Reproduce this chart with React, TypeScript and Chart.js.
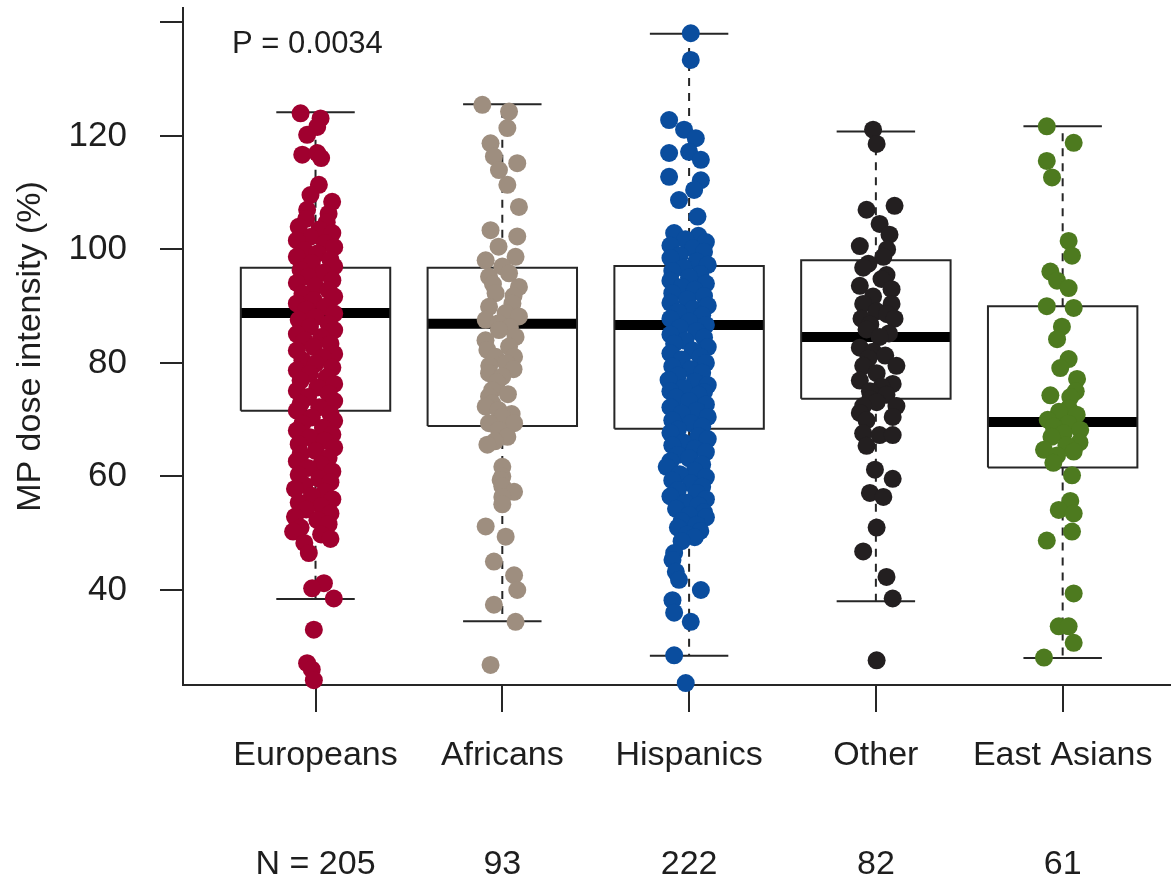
import React, { useEffect, useRef } from 'react';
import { Chart, registerables } from 'chart.js';

Chart.register(...registerables);

const groups = ['Europeans', 'Africans', 'Hispanics', 'Other', 'East Asians'];
const groupN = [205, 93, 222, 82, 61];
const colors = ['#A0002F', '#9E8E7F', '#0A4D9E', '#231F20', '#4D7A1F'];
const yTickValues = [40, 60, 80, 100, 120, 140];
const yTickLabels = ['40', '60', '80', '100', '120', ''];
const boxQ1 = [71.6, 68.9, 68.4, 73.7, 61.6];
const boxMedian = [88.8, 86.9, 86.7, 84.6, 69.6];
const boxQ3 = [96.8, 96.8, 97.1, 98.1, 90.0];
const whiskerLow = [38.4, 34.5, 28.4, 38.0, 28.0];
const whiskerHigh = [124.2, 125.6, 138.0, 120.8, 121.7];
const pValueText = 'P = 0.0034';
const pValuePos = [0.553, 136.2];

// jittered points: [horizontal jitter offset from group centre, MP dose intensity]
const europeansPts = [
  [-0.08, 124.0], [0.027, 123.1], [0.009, 121.6], [-0.045, 120.2], [-0.071, 116.7], [0.009, 117.0], [0.03, 116.1],
  [0.018, 111.4], [-0.027, 109.6], [0.089, 108.4], [-0.045, 107.0], [0.07, 106.3],
  [-0.05, 105.4], [0.06, 104.8], [-0.09, 104.0], [0.02, 103.5], [0.09, 102.9], [-0.03, 102.2], [-0.1, 101.6], [0.05, 101.1],
  [0.1, 100.4], [-0.06, 99.9], [0.01, 99.3], [-0.1, 98.7], [0.08, 98.2], [-0.02, 97.6], [0.1, 97.0], [-0.08, 96.4],
  [0.04, 95.9], [-0.04, 95.2], [0.09, 94.6], [-0.1, 94.1], [0.0, 93.5], [0.07, 92.8], [-0.07, 92.2], [0.1, 91.7],
  [-0.01, 91.1], [-0.1, 90.5], [0.05, 89.9], [-0.05, 89.4], [0.1, 88.7], [0.0, 88.1], [-0.09, 87.6], [0.07, 86.9],
  [-0.03, 86.4], [0.1, 85.8], [-0.1, 85.1], [0.03, 84.6], [-0.06, 84.0], [0.08, 83.4], [-0.01, 82.8], [-0.1, 82.2],
  [0.1, 81.6], [0.04, 81.0], [-0.07, 80.5], [0.0, 79.9], [0.09, 79.2], [-0.1, 78.7], [-0.03, 78.1], [0.06, 77.5],
  [-0.08, 76.9], [0.1, 76.3], [0.01, 75.7], [-0.1, 75.1], [0.07, 74.6], [-0.04, 74.0], [0.1, 73.3], [-0.08, 72.8],
  [0.02, 72.2], [-0.1, 71.6], [0.08, 71.0], [-0.02, 70.4], [0.1, 69.8], [-0.07, 69.3], [0.04, 68.6], [-0.1, 68.1],
  [0.09, 67.4], [-0.03, 66.9], [0.05, 66.3], [-0.09, 65.7], [0.1, 65.1], [0.0, 64.5], [-0.08, 63.9], [0.07, 63.3],
  [-0.1, 62.7], [0.03, 62.1], [-0.04, 61.5], [0.09, 60.9], [-0.09, 60.3], [0.02, 59.6], [0.08, 59.0], [-0.06, 58.5],
  [-0.11, 57.8], [0.05, 57.3], [-0.02, 56.6], [0.09, 56.0], [-0.09, 55.4], [0.03, 54.8], [-0.05, 54.2], [0.08, 53.5],
  [-0.11, 52.9], [0.01, 52.3], [0.07, 51.6], [-0.08, 51.0], [-0.12, 50.3], [0.03, 49.8], [0.08, 49.0], [-0.06, 48.3],
  [-0.036, 46.5], [0.045, 41.2], [-0.018, 40.3], [0.098, 38.5], [-0.009, 33.0], [-0.045, 27.1], [-0.02, 26.0], [-0.009, 24.1],
];

const africansPts = [
  [-0.107, 125.5], [0.036, 124.3], [0.027, 121.4], [-0.063, 118.7], [-0.045, 116.4], [0.08, 115.2], [-0.018, 114.0],
  [0.027, 111.4], [0.089, 107.5], [-0.063, 103.4], [0.08, 102.3], [-0.02, 100.5], [0.071, 98.7], [-0.089, 98.1],
  [0.0, 97.0], [0.036, 95.8], [-0.071, 95.2], [-0.05, 93.9], [0.089, 93.4], [-0.036, 92.3], [0.06, 91.8], [0.054, 90.5],
  [-0.071, 89.9], [0.018, 88.8], [0.089, 88.2], [-0.089, 87.6], [-0.02, 87.0], [0.04, 86.3], [-0.018, 85.8], [0.071, 84.6],
  [-0.09, 84.0], [0.036, 82.9], [-0.08, 82.3], [-0.036, 81.1], [0.063, 81.1], [0.02, 80.0], [-0.07, 79.5], [0.06, 78.9],
  [-0.071, 78.2], [0.0, 77.6], [-0.03, 76.6], [-0.054, 75.2], [0.03, 74.5], [-0.071, 74.1], [-0.054, 72.9], [-0.089, 72.3],
  [-0.02, 71.7], [0.05, 71.0], [0.0, 70.5], [0.063, 69.4], [-0.071, 69.4], [-0.018, 68.2], [0.027, 67.0], [-0.04, 66.2],
  [-0.08, 65.6], [0.0, 61.7], [0.0, 60.0], [-0.009, 59.4], [0.0, 58.3], [0.063, 57.3], [0.0, 56.4], [0.0, 55.1],
  [-0.089, 51.2], [0.018, 49.4], [-0.045, 45.0], [0.063, 42.6], [0.08, 40.0], [-0.045, 37.4], [0.071, 34.4], [-0.063, 26.8],
];

const hispanicsPts = [
  [0.009, 138.1], [0.009, 133.4], [-0.107, 122.8], [-0.027, 121.1], [0.036, 119.6], [-0.107, 117.0], [0.0, 117.2],
  [0.063, 115.8], [-0.107, 112.8], [0.063, 112.2], [0.027, 110.5], [-0.054, 108.7], [0.045, 105.8],
  [-0.08, 102.9], [0.05, 102.4], [-0.02, 101.8], [0.09, 101.3], [-0.1, 100.7], [0.02, 100.2], [0.08, 99.6], [-0.05, 99.0],
  [-0.1, 98.5], [0.04, 97.9], [0.1, 97.3], [-0.03, 96.8], [-0.09, 96.2], [0.06, 95.7], [0.0, 95.1], [-0.1, 94.5],
  [0.09, 94.0], [-0.04, 93.4], [0.03, 92.9], [-0.09, 92.3], [0.08, 91.8], [-0.01, 91.2], [-0.1, 90.6], [0.1, 90.1],
  [0.02, 89.5], [-0.06, 89.0], [0.07, 88.4], [-0.1, 87.8], [0.0, 87.3], [0.09, 86.7], [-0.05, 86.2], [0.04, 85.6],
  [-0.1, 85.0], [0.08, 84.5], [-0.02, 83.9], [-0.08, 83.4], [0.1, 82.8], [0.02, 82.2], [-0.1, 81.7], [0.06, 81.1],
  [-0.04, 80.6], [0.09, 80.0], [-0.09, 79.4], [0.01, 78.9], [0.07, 78.3], [-0.06, 77.8], [-0.11, 77.0], [0.03, 76.7],
  [0.1, 76.1], [-0.03, 75.6], [-0.1, 75.0], [0.08, 74.9], [0.05, 74.4], [-0.07, 73.9], [0.0, 73.3], [0.09, 72.7],
  [-0.1, 72.2], [0.04, 71.6], [-0.04, 71.1], [0.1, 70.5], [-0.09, 69.9], [0.01, 69.4], [0.07, 68.8], [-0.06, 68.3],
  [-0.1, 67.7], [0.05, 67.1], [0.1, 66.6], [-0.03, 66.0], [-0.09, 65.5], [0.03, 64.9], [0.09, 64.3], [-0.06, 63.8],
  [0.0, 63.2], [-0.1, 62.7], [0.07, 62.1], [-0.12, 61.7], [0.03, 61.0], [-0.05, 60.4], [0.09, 59.9], [-0.09, 59.3],
  [0.01, 58.8], [0.07, 58.2], [-0.06, 57.6], [0.04, 57.1], [-0.1, 56.5], [0.09, 56.0], [-0.02, 55.4], [0.05, 54.9],
  [-0.07, 54.3], [0.08, 53.7], [0.0, 53.2], [0.09, 52.8], [-0.04, 52.1], [0.04, 51.5], [-0.06, 51.0], [0.06, 50.4],
  [-0.01, 49.8], [0.03, 49.3], [-0.04, 48.6],
  [-0.08, 46.5], [-0.089, 45.3], [-0.071, 43.2], [-0.054, 41.8], [0.063, 40.0], [-0.089, 38.2], [-0.08, 36.0],
  [0.009, 34.4], [-0.08, 28.5], [-0.018, 23.6],
];

const otherPts = [
  [-0.015, 121.1], [0.004, 118.6], [-0.05, 107.0], [0.1, 107.7], [0.02, 104.5], [0.073, 102.6], [-0.086, 100.6],
  [0.06, 100.0], [0.04, 98.7], [-0.04, 97.5], [-0.068, 96.8], [0.057, 95.5], [0.03, 94.8], [-0.086, 93.6], [0.084, 93.0],
  [-0.015, 91.7], [-0.068, 90.4], [0.084, 90.4], [0.004, 89.1], [0.06, 88.6], [0.1, 87.8], [-0.077, 87.8], [-0.03, 86.8],
  [-0.05, 85.9], [0.07, 85.2], [0.02, 84.6], [-0.086, 82.7], [-0.015, 82.0], [0.05, 81.3], [-0.04, 80.8], [-0.068, 79.5],
  [0.11, 79.5], [0.004, 78.2], [-0.086, 76.9], [0.09, 76.3], [0.03, 75.8], [-0.032, 75.0], [0.057, 74.4], [-0.03, 73.6],
  [0.004, 73.1], [-0.068, 72.4], [0.11, 72.4], [-0.086, 71.2], [0.09, 70.5], [-0.05, 69.9], [-0.068, 67.6], [0.02, 67.3],
  [0.09, 67.3], [-0.05, 65.4], [-0.005, 61.2], [0.09, 59.6], [-0.032, 57.1], [0.04, 56.4], [0.004, 51.0], [-0.068, 46.8],
  [0.057, 42.3], [0.09, 38.5], [0.004, 27.6],
];

const eastAsiansPts = [
  [-0.085, 121.7], [0.059, 118.8], [-0.085, 115.6], [-0.057, 112.7], [0.032, 101.5], [0.05, 98.9], [-0.066, 96.1],
  [-0.03, 94.5], [0.032, 93.2], [-0.085, 90.0], [0.059, 89.7], [-0.004, 86.4], [-0.03, 84.2], [0.032, 80.7],
  [-0.013, 79.1], [0.077, 77.2], [0.07, 75.0], [-0.066, 74.3], [0.041, 74.0], [0.032, 72.0], [-0.02, 71.4],
  [0.075, 70.9], [-0.08, 70.0], [0.03, 69.3], [-0.048, 68.8], [0.094, 68.2], [0.005, 67.6], [-0.06, 67.0],
  [0.09, 66.0], [0.02, 65.5], [-0.1, 64.7], [0.059, 64.4], [-0.03, 63.7], [-0.05, 62.4], [0.05, 60.2], [0.041, 55.7],
  [-0.021, 54.1], [0.059, 53.5], [0.05, 50.3], [-0.085, 48.7], [0.059, 39.4], [-0.021, 33.6], [0.032, 33.6],
  [0.059, 30.7], [-0.1, 28.1],
];

const pointSets = [europeansPts, africansPts, hispanicsPts, otherPts, eastAsiansPts];

const BOX_HALF = 0.4;
const CAP_HALF = 0.21;
const FONT = '"Liberation Sans", Arial, Helvetica, sans-serif';
const INK = '#1e1e1e';
const LINE = '#262626';

const pTextPlugin = {
  id: 'pText',
  afterDatasetsDraw(chart: any) {
    const { ctx, scales } = chart;
    ctx.save();
    ctx.font = `31px ${FONT}`;
    ctx.fillStyle = INK;
    ctx.textAlign = 'left';
    ctx.textBaseline = 'middle';
    ctx.fillText(pValueText, scales.x.getPixelForValue(pValuePos[0]), scales.y.getPixelForValue(pValuePos[1]));
    ctx.restore();
  },
};

export default function App() {
  const ref = useRef<HTMLCanvasElement | null>(null);

  useEffect(() => {
    if (!ref.current) return;
    const datasets: any[] = [];
    pointSets.forEach((pts, gi) => {
      datasets.push({
        type: 'scatter',
        label: groups[gi],
        data: pts.map(([dx, v]) => ({ x: gi + 1 + dx, y: v })),
        pointRadius: 9,
        pointHoverRadius: 9,
        pointBackgroundColor: colors[gi],
        pointBorderWidth: 0,
        borderWidth: 0,
        showLine: false,
        clip: false,
        order: 0,
      });
    });

    const boxData: any[] = [];
    const whiskerData: any[] = [];
    const capData: any[] = [];
    const medianData: any[] = [];
    groups.forEach((_, i) => {
      const c = i + 1;
      boxData.push(
        { x: c - BOX_HALF, y: boxQ1[i] }, { x: c + BOX_HALF, y: boxQ1[i] },
        { x: c + BOX_HALF, y: boxQ3[i] }, { x: c - BOX_HALF, y: boxQ3[i] },
        { x: c - BOX_HALF, y: boxQ1[i] }, { x: c, y: null },
      );
      whiskerData.push(
        { x: c, y: boxQ3[i] }, { x: c, y: whiskerHigh[i] }, { x: c, y: null },
        { x: c, y: boxQ1[i] }, { x: c, y: whiskerLow[i] }, { x: c, y: null },
      );
      capData.push(
        { x: c - CAP_HALF, y: whiskerHigh[i] }, { x: c + CAP_HALF, y: whiskerHigh[i] }, { x: c, y: null },
        { x: c - CAP_HALF, y: whiskerLow[i] }, { x: c + CAP_HALF, y: whiskerLow[i] }, { x: c, y: null },
      );
      medianData.push(
        { x: c - BOX_HALF, y: boxMedian[i] }, { x: c + BOX_HALF, y: boxMedian[i] }, { x: c, y: null },
      );
    });
    const lineBase = {
      type: 'scatter',
      showLine: true,
      pointRadius: 0,
      pointHoverRadius: 0,
      borderColor: LINE,
      fill: false,
      tension: 0,
      spanGaps: false,
      order: 1,
    };
    datasets.push({ ...lineBase, label: 'whisker', data: whiskerData, borderWidth: 2, borderDash: [8, 7] });
    datasets.push({ ...lineBase, label: 'cap', data: capData, borderWidth: 2 });
    datasets.push({ ...lineBase, label: 'box', data: boxData, borderWidth: 2, borderJoinStyle: 'miter' });
    datasets.push({ ...lineBase, label: 'median', data: medianData, borderWidth: 10, borderColor: '#000', borderCapStyle: 'butt' });

    const chart = new Chart(ref.current, {
      type: 'scatter',
      data: { datasets },
      plugins: [pTextPlugin],
      options: {
        responsive: false,
        maintainAspectRatio: false,
        animation: false,
        events: [],
        layout: { autoPadding: false, padding: { top: 8, right: 0, left: 0, bottom: 0 } },
        plugins: { legend: { display: false }, tooltip: { enabled: false }, title: { display: false } },
        scales: {
          x: {
            type: 'linear',
            min: 0.2905,
            max: 5.58,
            afterBuildTicks: (s: any) => { s.ticks = groups.map((_, i) => ({ value: i + 1 })); },
            afterFit: (s: any) => { s.height = 194; s.paddingLeft = 0; s.paddingRight = 0; },
            grid: { display: true, drawOnChartArea: false, drawTicks: true, tickLength: 27, color: LINE, tickColor: LINE, tickWidth: 2, lineWidth: 2 },
            border: { display: true, color: LINE, width: 2 },
            ticks: {
              autoSkip: false,
              maxRotation: 0,
              minRotation: 0,
              padding: -10.5,
              color: INK,
              font: { family: FONT, size: 34, lineHeight: '109px' },
              callback: (v: any) => {
                const i = Math.round(Number(v)) - 1;
                return [groups[i], i === 0 ? `N = ${groupN[i]}` : String(groupN[i])];
              },
            },
          },
          y: {
            type: 'linear',
            min: 23.26,
            max: 142.55,
            afterBuildTicks: (s: any) => { s.ticks = yTickValues.map((v) => ({ value: v })); },
            afterFit: (s: any) => { s.width = 183; s.paddingTop = 0; s.paddingBottom = 0; },
            grid: { display: true, drawOnChartArea: false, drawTicks: true, tickLength: 23, color: LINE, tickColor: LINE, tickWidth: 2, lineWidth: 2 },
            border: { display: true, color: LINE, width: 2 },
            ticks: {
              padding: 33,
              color: INK,
              font: { family: FONT, size: 35 },
              callback: (v: any) => {
                const idx = yTickValues.indexOf(Number(v));
                return idx >= 0 ? yTickLabels[idx] : '';
              },
            },
            title: {
              display: true,
              text: 'MP dose intensity (%)',
              color: INK,
              font: { family: FONT, size: 34 },
              padding: { top: 10, bottom: 0 },
            },
          },
        },
      } as any,
    } as any);
    return () => chart.destroy();
  }, []);

  return (
    <div style={{ position: 'absolute', left: 0, top: 0, width: 1171, height: 879, background: '#fff' }}>
      <canvas ref={ref} width={1171} height={879} style={{ display: 'block', width: 1171, height: 879 }} />
    </div>
  );
}
